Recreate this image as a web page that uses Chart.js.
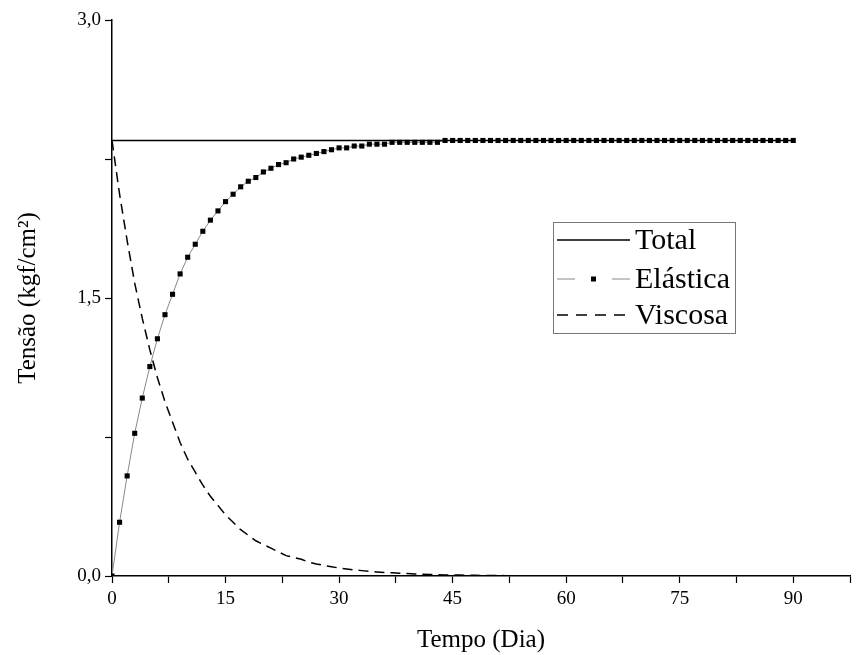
<!DOCTYPE html>
<html>
<head>
<meta charset="utf-8">
<script src="https://cdn.jsdelivr.net/npm/chart.js@4.4.1/dist/chart.umd.min.js"></script>
<style>
  html, body { margin: 0; padding: 0; background: #fff; }
  canvas { display: block; }
</style>
</head>
<body>
<canvas id="tensaoChart" width="859" height="655"></canvas>
<script>
// tempo (dia) e tensoes
var totalDays = [0, 90];
var totalValues = [2.35, 2.35];

var elasticDays = [];
for (var d = 0; d <= 90; d++) elasticDays.push(d);
var elasticValues = [
  0.00, 0.29, 0.54, 0.77, 0.96, 1.13, 1.28, 1.41, 1.52, 1.63,
  1.72, 1.79, 1.86, 1.92, 1.97, 2.02, 2.06, 2.10, 2.13, 2.15,
  2.18, 2.20, 2.22, 2.23, 2.25, 2.26, 2.27, 2.28, 2.29, 2.30,
  2.31, 2.31, 2.32, 2.32, 2.33, 2.33, 2.33, 2.34, 2.34, 2.34,
  2.34, 2.34, 2.34, 2.34, 2.35, 2.35, 2.35, 2.35, 2.35, 2.35,
  2.35, 2.35, 2.35, 2.35, 2.35, 2.35, 2.35, 2.35, 2.35, 2.35,
  2.35, 2.35, 2.35, 2.35, 2.35, 2.35, 2.35, 2.35, 2.35, 2.35,
  2.35, 2.35, 2.35, 2.35, 2.35, 2.35, 2.35, 2.35, 2.35, 2.35,
  2.35, 2.35, 2.35, 2.35, 2.35, 2.35, 2.35, 2.35, 2.35, 2.35,
  2.35
];

var viscousDays = [];
for (var v = 0; v <= 61; v++) viscousDays.push(v);
var viscousValues = [
  2.35, 2.06, 1.81, 1.58, 1.39, 1.22, 1.07, 0.94, 0.83, 0.72,
  0.63, 0.56, 0.49, 0.43, 0.38, 0.33, 0.29, 0.25, 0.22, 0.19,
  0.17, 0.15, 0.13, 0.11, 0.10, 0.09, 0.075, 0.065, 0.057, 0.05,
  0.043, 0.038, 0.033, 0.029, 0.025, 0.022, 0.019, 0.017, 0.015, 0.013,
  0.011, 0.010, 0.008, 0.007, 0.006, 0.006, 0.005, 0.004, 0.004, 0.003,
  0.003, 0.003, 0.002, 0.002, 0.002, 0.002, 0.001, 0.001, 0.001, 0.001,
  0.001, 0.001
];

var legendLabels = ["Total", "Elástica", "Viscosa"];

function toPoints(xs, ys) {
  return xs.map(function (x, i) { return { x: x, y: ys[i] }; });
}

var serif = "'Liberation Serif', 'Times New Roman', serif";

// legenda desenhada dentro da area do grafico
var boxLegend = {
  id: "boxLegend",
  afterDraw: function (chart) {
    var ctx = chart.ctx;
    ctx.save();
    ctx.strokeStyle = "#777";
    ctx.lineWidth = 1;
    ctx.strokeRect(553.5, 222.5, 182, 111);

    var rows = [240, 279, 315];
    var x0 = 557, x1 = 630;

    // Total
    ctx.strokeStyle = "#000";
    ctx.lineWidth = 1.5;
    ctx.beginPath();
    ctx.moveTo(x0, rows[0]); ctx.lineTo(x1, rows[0]);
    ctx.stroke();

    // Elastica
    ctx.strokeStyle = "#888";
    ctx.lineWidth = 1;
    ctx.beginPath();
    ctx.moveTo(x0, rows[1]); ctx.lineTo(x0 + 18, rows[1]);
    ctx.moveTo(x1 - 18, rows[1]); ctx.lineTo(x1, rows[1]);
    ctx.stroke();
    ctx.fillStyle = "#000";
    ctx.fillRect((x0 + x1) / 2 - 2.5, rows[1] - 2.5, 5, 5);

    // Viscosa
    ctx.strokeStyle = "#000";
    ctx.lineWidth = 1.5;
    ctx.setLineDash([11, 8]);
    ctx.beginPath();
    ctx.moveTo(x0, rows[2]); ctx.lineTo(x1, rows[2]);
    ctx.stroke();
    ctx.setLineDash([]);

    ctx.fillStyle = "#000";
    ctx.font = "30px " + serif;
    ctx.textBaseline = "middle";
    ctx.textAlign = "left";
    legendLabels.forEach(function (t, i) {
      ctx.fillText(t, 635, rows[i] + 1);
    });
    ctx.restore();
  }
};

var ctx = document.getElementById("tensaoChart");

var chartConfig = {
  type: "line",
  data: {
    datasets: [
      {
        label: legendLabels[0],
        data: toPoints(totalDays, totalValues),
        borderColor: "#000",
        borderWidth: 1.5,
        pointRadius: 0,
        tension: 0
      },
      {
        label: legendLabels[1],
        data: toPoints(elasticDays, elasticValues),
        borderColor: "#888",
        borderWidth: 1,
        pointStyle: "rect",
        pointRadius: 3.6,
        pointBackgroundColor: "#000",
        pointBorderColor: "#000",
        pointBorderWidth: 0,
        tension: 0
      },
      {
        label: legendLabels[2],
        data: toPoints(viscousDays, viscousValues),
        borderColor: "#000",
        borderWidth: 1.5,
        borderDash: [10, 6],
        pointRadius: 0,
        tension: 0
      }
    ]
  },
  options: {
    responsive: false,
    animation: false,
    devicePixelRatio: 1,
    layout: { padding: { top: 20, right: 9, left: 0, bottom: 0 } },
    plugins: {
      legend: { display: false },
      tooltip: { enabled: false }
    },
    scales: {
      x: {
        type: "linear",
        min: 0,
        max: 97.5,
        afterFit: function (s) { s.height = 79; },
        border: { color: "#000", width: 1.5 },
        grid: { drawOnChartArea: false, color: "#000", tickLength: 7, tickWidth: 1.2 },
        ticks: {
          stepSize: 7.5,
          autoSkip: false,
          maxRotation: 0,
          padding: 5,
          color: "#000",
          font: { family: serif, size: 19 },
          callback: function (val) { return val % 15 === 0 ? String(val) : ""; }
        },
        title: {
          display: true,
          text: "Tempo (Dia)",
          color: "#000",
          font: { family: serif, size: 25 },
          padding: { top: 3, bottom: 0 }
        }
      },
      y: {
        min: 0,
        max: 3,
        afterFit: function (s) { s.width = 112; },
        border: { color: "#000", width: 1.5 },
        grid: { drawOnChartArea: false, color: "#000", tickLength: 7, tickWidth: 1.2 },
        ticks: {
          stepSize: 0.75,
          autoSkip: false,
          padding: 4,
          color: "#000",
          font: { family: serif, size: 19 },
          callback: function (val) {
            return val % 1.5 === 0 ? val.toFixed(1).replace(".", ",") : "";
          }
        },
        title: {
          display: true,
          text: "Tensão (kgf/cm²)",
          color: "#000",
          font: { family: serif, size: 25 },
          padding: { top: 13, bottom: 0 }
        }
      }
    }
  },
  plugins: [boxLegend]
};

var tensaoChart = new Chart(ctx, chartConfig);
</script>
</body>
</html>
